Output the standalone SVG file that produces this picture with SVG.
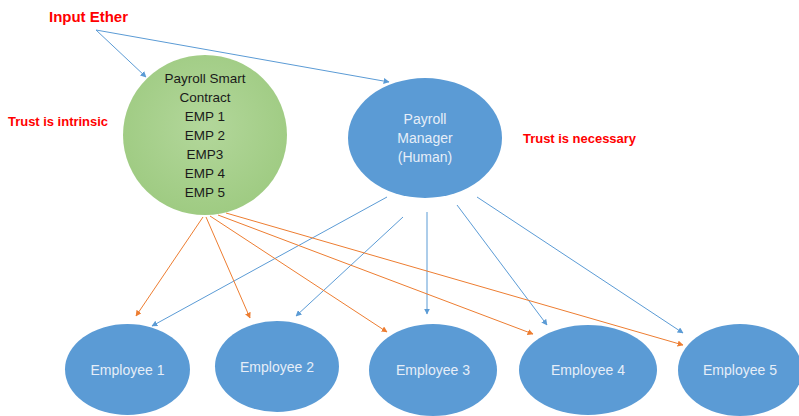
<svg xmlns="http://www.w3.org/2000/svg" width="799" height="416" viewBox="0 0 799 416">
  <defs>
    <marker id="arrow-blue" viewBox="0 0 10 10" refX="9" refY="5" markerWidth="6" markerHeight="6" markerUnits="userSpaceOnUse" orient="auto">
      <path d="M0,0 L10,5 L0,10 z" fill="#5b9bd5"/>
    </marker>
    <marker id="arrow-orange" viewBox="0 0 10 10" refX="9" refY="5" markerWidth="6" markerHeight="6" markerUnits="userSpaceOnUse" orient="auto">
      <path d="M0,0 L10,5 L0,10 z" fill="#ed7d31"/>
    </marker>
    <radialGradient id="green-fill" cx="50%" cy="45%" r="60%">
      <stop offset="0" stop-color="#b3d79b"/>
      <stop offset="1" stop-color="#9dca80"/>
    </radialGradient>
  </defs>
  <style>
    .note { font-family: "Liberation Sans", Arial, sans-serif; font-weight: bold; fill: #ff0000; }
    .dark { font-family: "Liberation Sans", Arial, sans-serif; font-size: 13.5px; fill: #1a1a1a; text-anchor: middle; }
    .light { font-family: "Liberation Sans", Arial, sans-serif; font-size: 14px; fill: #e6eef8; text-anchor: middle; }
    .blue-node { fill: #5b9bd5; }
    .blue-line { stroke: #5b9bd5; stroke-width: 1; fill: none; marker-end: url(#arrow-blue); }
    .orange-line { stroke: #ed7d31; stroke-width: 1; fill: none; marker-end: url(#arrow-orange); }
  </style>

  <rect width="799" height="416" fill="#ffffff"/>

  <!-- side notes -->
  <text class="note" x="49" y="22" font-size="15" textLength="79">Input Ether</text>
  <text class="note" x="8" y="126" font-size="13" textLength="100">Trust is intrinsic</text>
  <text class="note" x="523" y="143" font-size="13" textLength="113">Trust is necessary</text>

  <!-- connectors -->
  <g id="connectors">
    <line class="blue-line" x1="96" y1="30" x2="146" y2="77"/>
    <line class="blue-line" x1="96" y1="30" x2="389" y2="82"/>

    <line class="blue-line" x1="387" y1="197" x2="152" y2="326"/>
    <line class="blue-line" x1="403" y1="217" x2="296" y2="316"/>
    <line class="blue-line" x1="427" y1="212" x2="427" y2="314"/>
    <line class="blue-line" x1="457" y1="205" x2="547" y2="325"/>
    <line class="blue-line" x1="477" y1="197" x2="683" y2="333"/>

    <line class="orange-line" x1="203" y1="217" x2="136" y2="316" stroke-width="1.5"/>
    <line class="orange-line" x1="206" y1="217" x2="250" y2="318"/>
    <line class="orange-line" x1="210" y1="216" x2="387" y2="332"/>
    <line class="orange-line" x1="218" y1="215" x2="533" y2="334"/>
    <line class="orange-line" x1="226" y1="213" x2="683" y2="345"/>
  </g>

  <!-- smart contract -->
  <g id="contract">
    <ellipse cx="205" cy="135" rx="82" ry="80" fill="url(#green-fill)"/>
    <text class="dark" x="205" y="83">Payroll Smart</text>
    <text class="dark" x="205" y="102">Contract</text>
    <text class="dark" x="205" y="121">EMP 1</text>
    <text class="dark" x="205" y="140">EMP 2</text>
    <text class="dark" x="205" y="159">EMP3</text>
    <text class="dark" x="205" y="178">EMP 4</text>
    <text class="dark" x="205" y="197">EMP 5</text>
  </g>

  <!-- human manager -->
  <g id="manager">
    <ellipse class="blue-node" cx="425" cy="138" rx="77" ry="60"/>
    <text class="light" x="425" y="124">Payroll</text>
    <text class="light" x="425" y="143">Manager</text>
    <text class="light" x="425" y="162">(Human)</text>
  </g>

  <!-- employees -->
  <g id="employee-1">
    <ellipse class="blue-node" cx="127.5" cy="369.5" rx="62.5" ry="45.5"/>
    <text class="light" x="127.5" y="375">Employee 1</text>
  </g>
  <g id="employee-2">
    <ellipse class="blue-node" cx="277" cy="366.5" rx="62" ry="45.5"/>
    <text class="light" x="277" y="372">Employee 2</text>
  </g>
  <g id="employee-3">
    <ellipse class="blue-node" cx="433" cy="370" rx="64" ry="46"/>
    <text class="light" x="433" y="375">Employee 3</text>
  </g>
  <g id="employee-4">
    <ellipse class="blue-node" cx="588" cy="370" rx="69" ry="45"/>
    <text class="light" x="588" y="375">Employee 4</text>
  </g>
  <g id="employee-5">
    <ellipse class="blue-node" cx="740" cy="370" rx="62" ry="46"/>
    <text class="light" x="740" y="375">Employee 5</text>
  </g>
</svg>
